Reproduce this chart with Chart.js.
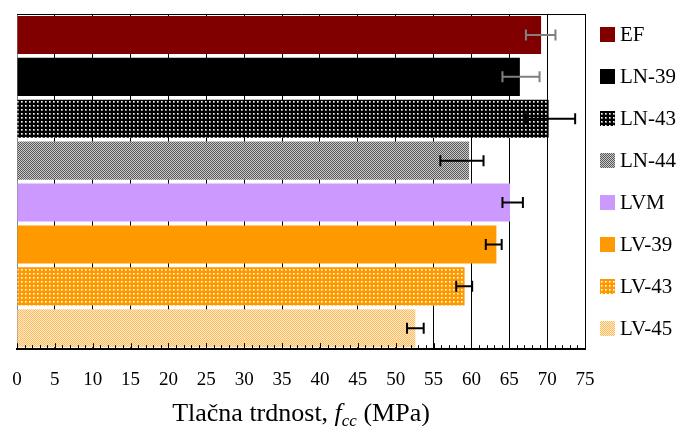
<!DOCTYPE html>
<html>
<head>
<meta charset="utf-8">
<script src="https://cdn.jsdelivr.net/npm/chart.js@4"></script>
<style>
  html, body { margin: 0; padding: 0; background: #fff; }
  #wrap { width: 681px; height: 426px; }
</style>
</head>
<body>
<div id="wrap"><canvas id="strengthChart" width="681" height="426"></canvas></div>
<script>
// categories and measured compressive strength (MPa)
const categories = ['EF', 'LN-39', 'LN-43', 'LN-44', 'LVM', 'LV-39', 'LV-43', 'LV-45'];
const strength = [69.2, 66.4, 70.2, 59.7, 65.1, 63.3, 59.1, 52.6];
// error bar extents below / above the bar value
const errMinus = [2.0, 2.3, 3.0, 3.8, 1.0, 1.4, 1.1, 1.1];
const errPlus = [1.9, 2.6, 3.5, 1.9, 1.7, 0.7, 1.0, 1.1];
const errColors = ['#808080', '#808080', '#000', '#000', '#000', '#000', '#000', '#000'];
const xTicks = [0, 5, 10, 15, 20, 25, 30, 35, 40, 45, 50, 55, 60, 65, 70, 75];

const serif = "'Liberation Serif', 'Times New Roman', serif";

// small tiled fills for the hatched bars
function makePattern(size, bg, dots) {
  const c = document.createElement('canvas');
  c.width = size; c.height = size;
  const g = c.getContext('2d');
  g.fillStyle = bg;
  g.fillRect(0, 0, size, size);
  dots.forEach(d => {
    g.fillStyle = d[2];
    g.fillRect(d[0], d[1], 1, 1);
  });
  return g.createPattern(c, 'repeat');
}

const dotsBlack = makePattern(4, '#000', [[1, 1, '#fff'], [2, 1, '#999'], [1, 2, '#999'], [2, 2, '#777']]);
const checkGray = makePattern(2, '#5a5a5a', [[1, 0, '#c8c8c8'], [0, 1, '#c8c8c8']]);
const dotsOrange = makePattern(4, '#ff9900', [[1, 1, '#fff'], [2, 1, '#ffd38a'], [1, 2, '#ffd38a'], [2, 2, '#ffc466']]);
const checkOrange = makePattern(2, '#ffbb5c', [[1, 0, '#ffebcc'], [0, 1, '#ffebcc']]);

const fills = ['#800000', '#000000', dotsBlack, checkGray, '#cc99ff', '#ff9900', dotsOrange, checkOrange];

const extras = {
  id: 'extras',
  beforeDatasetsDraw(chart) {
    const { ctx, chartArea: a } = chart;
    ctx.save();
    ctx.strokeStyle = '#000';
    ctx.lineWidth = 1;
    ctx.beginPath();
    ctx.moveTo(a.left, a.top + 0.5);
    ctx.lineTo(a.right + 0.5, a.top + 0.5);
    ctx.lineTo(a.right + 0.5, a.bottom);
    ctx.stroke();
    ctx.restore();
  },
  afterDatasetsDraw(chart) {
    const { ctx, chartArea: a } = chart;
    const xs = chart.scales.x, ys = chart.scales.y;
    ctx.save();
    // error bars
    ctx.lineWidth = 2;
    strength.forEach((v, i) => {
      const y = ys.getPixelForValue(i);
      const x1 = xs.getPixelForValue(v - errMinus[i]);
      const x2 = xs.getPixelForValue(v + errPlus[i]);
      ctx.strokeStyle = errColors[i];
      ctx.beginPath();
      ctx.moveTo(x1, y); ctx.lineTo(x2, y);
      ctx.moveTo(x1, y - 5.5); ctx.lineTo(x1, y + 5.5);
      ctx.moveTo(x2, y - 5.5); ctx.lineTo(x2, y + 5.5);
      ctx.stroke();
    });
    // inward minor ticks on the value axis
    ctx.strokeStyle = '#000';
    ctx.lineWidth = 1;
    ctx.beginPath();
    for (let v = 0; v <= 75; v++) {
      const x = Math.round(xs.getPixelForValue(v)) + 0.5;
      ctx.moveTo(x, a.bottom);
      ctx.lineTo(x, a.bottom - (v % 5 === 0 ? 6 : 4));
    }
    ctx.stroke();
    ctx.restore();
  },
  afterDraw(chart) {
    const { ctx, chartArea: a } = chart;
    const ys = chart.scales.y;
    ctx.save();
    // legend, one row per bar
    ctx.font = '21px ' + serif;
    ctx.textBaseline = 'middle';
    categories.forEach((c, i) => {
      const y = ys.getPixelForValue(i);
      ctx.fillStyle = fills[i];
      ctx.fillRect(600, Math.round(y - 7.5), 15, 15);
      ctx.fillStyle = '#000';
      ctx.fillText(c, 620, y + 1);
    });
    // axis title with italic subscripted symbol
    const parts = [
      ['Tlačna trdnost, ', '26px ' + serif, 0],
      ['f', 'italic 26px ' + serif, 0],
      ['cc', 'italic 17px ' + serif, 5],
      [' (MPa)', '26px ' + serif, 0]
    ];
    let total = 0;
    parts.forEach(p => { ctx.font = p[1]; total += ctx.measureText(p[0]).width; });
    let x = (a.left + a.right) / 2 - total / 2;
    ctx.textBaseline = 'alphabetic';
    ctx.fillStyle = '#000';
    parts.forEach(p => {
      ctx.font = p[1];
      ctx.fillText(p[0], x, 421 + p[2]);
      x += ctx.measureText(p[0]).width;
    });
    ctx.restore();
  }
};

const ctx = document.getElementById('strengthChart').getContext('2d');
const strengthChart = new Chart(ctx, {
  type: 'bar',
  data: {
    labels: categories,
    datasets: [{
      label: 'Tlačna trdnost',
      data: strength,
      backgroundColor: fills,
      borderWidth: 0,
      barPercentage: 0.91,
      categoryPercentage: 1.0
    }]
  },
  options: {
    indexAxis: 'y',
    responsive: false,
    animation: false,
    layout: { padding: { left: 17, top: 14, right: 96, bottom: 32 } },
    plugins: {
      legend: { display: false },
      tooltip: { enabled: false }
    },
    scales: {
      x: {
        min: 0,
        max: 75,
        afterBuildTicks(scale) { scale.ticks = xTicks.map(v => ({ value: v })); },
        grid: {
          color: c => (c.tick && c.tick.value === 0 ? '#888' : '#000'),
          lineWidth: 1,
          drawTicks: true,
          tickLength: 16,
          tickColor: 'rgba(0,0,0,0)'
        },
        border: { display: true, color: '#000', width: 2 },
        ticks: {
          padding: 3,
          color: '#000',
          font: { family: serif, size: 19 }
        }
      },
      y: {
        display: false
      }
    }
  },
  plugins: [extras]
});
</script>
</body>
</html>
